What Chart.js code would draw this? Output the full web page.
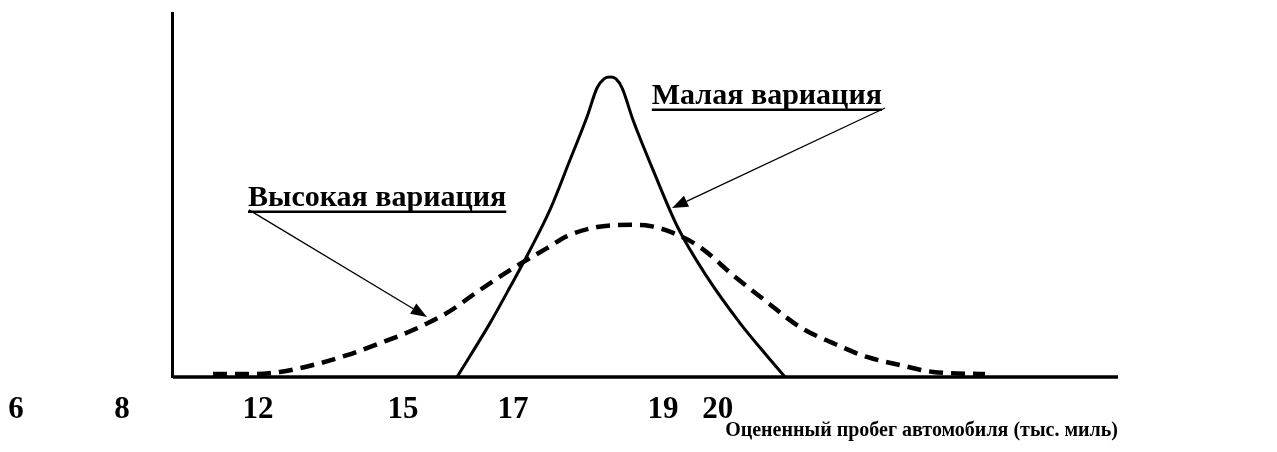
<!DOCTYPE html>
<html lang="ru">
<head>
<meta charset="UTF-8">
<title>Вариация пробега</title>
<style>
  html, body { margin: 0; padding: 0; background: #fff; }
</style>
</head>
<body>
<canvas id="myChart" width="1277" height="452"></canvas>
<script src="https://cdn.jsdelivr.net/npm/chart.js"></script>
<script>
// horizontal positions run 0..100 across the plot, the vertical axis stands at axisX
const xMax = 100
const axisX = 15.47

const tickPos = [1.43, 10.91, 23.08, 36.05, 45.89, 59.3, 64.2]
const tickLabels = ['6', '8', '12', '15', '17', '19', '20']

// narrow distribution (solid)
const narrowX = [40.88, 43.83, 45.62, 47.41, 49.19, 50.98, 52.50, 53.40, 54.03, 54.56, 55.10, 55.64,
                 56.62, 58.41, 60.64, 63.24, 66.19, 68.16, 70.21]
const narrowY = [0, 14.8, 24.7, 34.9, 45.9, 59.6, 71.4, 79.4, 81.9, 82.4, 81.9, 79.4,
                 70.6, 56.9, 41.0, 27.5, 14.8, 7.4, 0]

// wide distribution (dashed)
const wideX = [19.05, 22.63, 25.04, 28.00, 31.04, 33.99, 36.94, 39.98, 42.93, 45.89, 48.93, 50.72, 53.40,
               56.62, 58.14, 60.20, 62.61, 65.56, 68.60, 71.56, 74.51, 77.55, 80.50, 83.45, 88.10]
const wideY = [0.8, 0.8, 1.4, 3.3, 6.0, 9.3, 12.9, 17.6, 23.9, 29.9, 35.4, 38.7, 41.2,
               41.8, 41.5, 39.6, 35.7, 28.0, 20.6, 13.7, 9.3, 5.5, 3.3, 1.4, 0.8]

const noteText = ['Малая вариация', 'Высокая вариация']
const noteAt = [[58.3, 77.0], [22.18, 49.0]]
const arrowFrom = [[79.16, 73.9], [22.27, 45.9]]
const arrowTo = [[60.11, 46.4], [38.19, 16.5]]

const xTitle = 'Оцененный пробег автомобиля (тыс. миль)'
const serif = '"Liberation Serif", "Times New Roman", serif'

const toPoints = (xs, ys) => xs.map((v, i) => ({ x: v, y: ys[i] }))

const notes = {
    id: 'notes',
    afterDatasetsDraw(chart) {
        const { ctx, scales: { x, y } } = chart
        ctx.save()
        ctx.fillStyle = '#000'
        ctx.strokeStyle = '#000'
        ctx.font = 'bold 30px ' + serif
        ctx.textBaseline = 'middle'
        noteText.forEach((txt, i) => {
            const tx = x.getPixelForValue(noteAt[i][0])
            const ty = y.getPixelForValue(noteAt[i][1])
            ctx.fillText(txt, tx, ty)
            const w = ctx.measureText(txt).width
            ctx.lineWidth = 2.5
            ctx.beginPath()
            ctx.moveTo(tx, ty + 13)
            ctx.lineTo(tx + w, ty + 13)
            ctx.stroke()

            // pointer with a filled head
            const x0 = x.getPixelForValue(arrowFrom[i][0]), y0 = y.getPixelForValue(arrowFrom[i][1])
            const x1 = x.getPixelForValue(arrowTo[i][0]), y1 = y.getPixelForValue(arrowTo[i][1])
            const a = Math.atan2(y1 - y0, x1 - x0)
            const len = 16, half = 6
            const bx = x1 - len * Math.cos(a), by = y1 - len * Math.sin(a)
            ctx.lineWidth = 1.3
            ctx.beginPath()
            ctx.moveTo(x0, y0)
            ctx.lineTo(bx, by)
            ctx.stroke()
            ctx.beginPath()
            ctx.moveTo(x1, y1)
            ctx.lineTo(bx + half * Math.sin(a), by - half * Math.cos(a))
            ctx.lineTo(bx - half * Math.sin(a), by + half * Math.cos(a))
            ctx.closePath()
            ctx.fill()
        })
        ctx.restore()
    }
}

const chart = new Chart(document.getElementById('myChart'), {
    type: 'line',
    data: {
        datasets: [
            {
                label: 'Малая вариация',
                data: toPoints(narrowX, narrowY),
                borderColor: '#000',
                borderWidth: 3,
                cubicInterpolationMode: 'monotone',
                pointRadius: 0,
                clip: false
            },
            {
                label: 'Высокая вариация',
                data: toPoints(wideX, wideY),
                borderColor: '#000',
                borderWidth: 4.5,
                borderDash: [14, 8],
                borderCapStyle: 'butt',
                cubicInterpolationMode: 'monotone',
                pointRadius: 0,
                clip: false
            },
            {
                label: 'ось',
                data: [{ x: axisX, y: 0 }, { x: xMax, y: 0 }],
                borderColor: '#000',
                borderWidth: 3.5,
                pointRadius: 0,
                clip: false
            }
        ]
    },
    options: {
        responsive: false,
        animation: false,
        layout: { padding: { top: 13, right: 159, left: 0, bottom: 0 } },
        plugins: { legend: { display: false }, tooltip: { enabled: false } },
        scales: {
            x: {
                type: 'linear',
                min: 0,
                max: xMax,
                grid: { display: false, drawTicks: false },
                border: { display: false },
                afterBuildTicks: (scale) => {
                    scale.ticks = tickPos.map(v => ({ value: v }))
                },
                afterFit: (scale) => {
                    // fixed band under the plot, no side padding for the outer labels
                    scale.height = 75
                    scale.paddingLeft = 0
                    scale.paddingRight = 0
                },
                ticks: {
                    autoSkip: false,
                    maxRotation: 0,
                    minRotation: 0,
                    padding: 14,
                    color: '#000',
                    font: { family: serif, size: 31, weight: 'bold' },
                    callback: (v, i) => tickLabels[i]
                },
                title: {
                    display: true,
                    text: xTitle,
                    align: 'end',
                    color: '#000',
                    font: { family: serif, size: 20, weight: 'bold' },
                    padding: { top: 0, bottom: 9 }
                }
            },
            y: {
                min: 0,
                max: 100,
                position: { x: axisX },
                grid: { display: false, drawTicks: false },
                border: { display: true, color: '#000', width: 3 },
                ticks: { display: false }
            }
        }
    },
    plugins: [notes]
})
</script>
</body>
</html>
